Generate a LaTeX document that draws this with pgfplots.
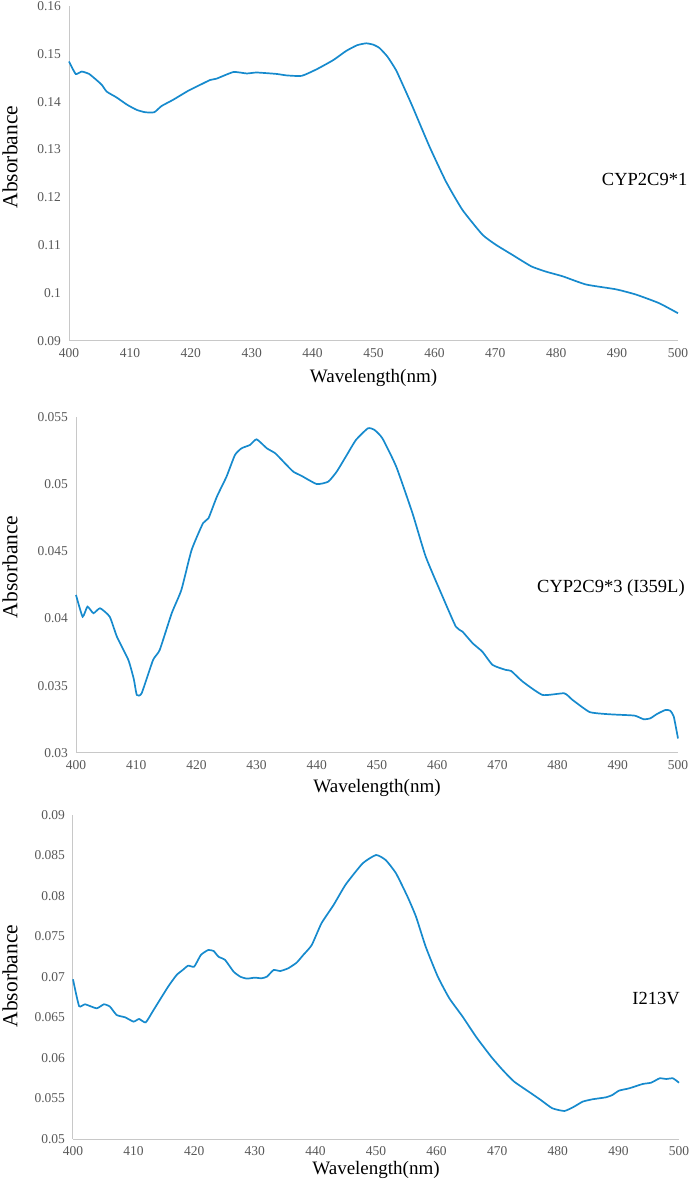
\documentclass[border=0pt]{standalone}
\usepackage{fontspec}
\setmainfont{Liberation Serif}
\usepackage{pgfplots}
\pgfplotsset{compat=1.18}
\definecolor{curve}{RGB}{22,138,205}
\definecolor{axisgray}{RGB}{200,200,200}
\definecolor{tickgray}{RGB}{89,89,89}
\pgfplotsset{
 spec/.style={
  scale only axis,
  xmin=400,xmax=500,
  xtick={400,410,...,500},
  axis x line=bottom, axis y line=left,
  axis line style={axisgray, line width=1pt, -},
  major tick length=0pt,
  scaled y ticks=false, scaled x ticks=false,
  tick label style={font=\fontsize{13.5}{15}\selectfont, text=tickgray},
  /pgf/number format/assume math mode=true,
  yticklabel style={/pgf/number format/fixed, /pgf/number format/precision=3, xshift=-4.5pt},
  xticklabel style={yshift=-4pt},
  xlabel={Wavelength(nm)},
  ylabel={Absorbance},
  clip=false,
 },
 spc/.style={curve, line width=1.7pt, smooth, tension=0.3},
}
\begin{document}
\begin{tikzpicture}[x=1pt,y=1pt]
\path[use as bounding box] (0,0) rectangle (692,1182);
% ---------- Plot 1
\begin{axis}[spec, at={(69pt,841pt)}, anchor=south west, width=609pt, height=335pt,
  ymin=0.09, ymax=0.16, ytick={0.09,0.1,0.11,0.12,0.13,0.14,0.15,0.16},
  every axis x label/.style={at={(axis description cs:0.5,-0.11)},anchor=center,font=\fontsize{19}{21}\selectfont},
  every axis y label/.style={at={(axis description cs:-0.097,0.549)},rotate=90,anchor=center,font=\fontsize{21.5}{23}\selectfont}]
\addplot[spc] coordinates {
(400,0.1484)(401.1,0.1458)(402.1,0.1463)(403.3,0.1458)(404.5,0.14455)(405.4,0.1435)(406.2,0.1421)(407.8,0.1409)(409.5,0.1394)(411.1,0.1383)(412.5,0.1378)(414.0,0.1378)(415.2,0.1391)(417.1,0.1404)(419.6,0.1423)(421.5,0.1435)(423.2,0.14455)(424.2,0.1448)(427,0.1462)(429.2,0.1459)(430.8,0.1461)(434.1,0.1458)(435.7,0.1455)(438.2,0.1454)(440.7,0.1468)(443.4,0.1487)(445.5,0.1506)(447.3,0.1518)(448.8,0.1522)(450,0.1519)(451.0,0.1512)(452.3,0.1494)(453.7,0.1466)(455,0.1430)(456.4,0.1390)(459.2,0.1306)(461.9,0.1233)(464.6,0.1174)(467.9,0.1122)(470.1,0.1101)(472.8,0.1080)(475.9,0.1056)(478.3,0.1045)(481.1,0.1035)(484.9,0.1018)(489.8,0.1008)(493.1,0.0997)(496.9,0.0979)(500,0.0958)
};
\node[anchor=east,font=\fontsize{18.5}{20}\selectfont] at (axis cs:502.1,0.1237) {CYP2C9*1};
\end{axis}
% ---------- Plot 2
\begin{axis}[spec, at={(76pt,429pt)}, anchor=south west, width=602pt, height=336pt,
  ymin=0.03, ymax=0.055, ytick={0.03,0.035,0.04,0.045,0.05,0.055},
  every axis x label/.style={at={(axis description cs:0.5,-0.104)},anchor=center,font=\fontsize{19}{21}\selectfont},
  every axis y label/.style={at={(axis description cs:-0.1096,0.554)},rotate=90,anchor=center,font=\fontsize{21.5}{23}\selectfont}]
\addplot[spc] coordinates {
(400,0.04176)(401.1,0.04014)(401.9,0.04089)(402.9,0.0404)(404.0,0.04077)(405.6,0.04014)(406.8,0.03865)(408.7,0.03692)(409.6,0.0355)(410.1,0.03432)(410.9,0.03444)(412.8,0.03692)(413.9,0.03766)(415.9,0.0404)(417.5,0.04213)(419.2,0.0451)(421.1,0.0471)(422.0,0.04746)(423.4,0.04907)(425.0,0.05056)(426.4,0.05217)(427.5,0.05267)(428.9,0.05292)(430.0,0.05334)(431.7,0.05267)(433.1,0.0523)(434.7,0.05156)(436.1,0.05093)(437.5,0.05061)(440.0,0.05001)(441.9,0.05019)(443.3,0.05093)(444.9,0.05211)(446.5,0.05329)(448.5,0.05416)(449.6,0.05403)(450.9,0.05341)(453.2,0.0513)(455.9,0.04783)(458.1,0.0446)(460.9,0.04163)(463.1,0.0394)(464.2,0.03903)(465.9,0.03816)(467.5,0.03754)(469.2,0.03655)(471.4,0.03618)(472.3,0.0361)(474.2,0.03531)(477.5,0.03432)(481.1,0.03444)(482.5,0.03394)(485.3,0.03305)(488.0,0.0329)(489.9,0.03285)(492.8,0.03278)(494.3,0.03251)(495.4,0.03258)(496.5,0.0329)(497.9,0.0332)(498.7,0.03315)(499.3,0.0327)(500,0.03108)
};
\node[anchor=east,font=\fontsize{18.5}{20}\selectfont] at (axis cs:501.7,0.04228) {CYP2C9*3 (I359L)};
\end{axis}
% ---------- Plot 3
\begin{axis}[spec, at={(73pt,43pt)}, anchor=south west, width=606pt, height=324pt,
  ymin=0.05, ymax=0.09, ytick={0.05,0.055,0.06,0.065,0.07,0.075,0.08,0.085,0.09},
  every axis x label/.style={at={(axis description cs:0.5,-0.096)},anchor=center,font=\fontsize{19}{21}\selectfont},
  every axis y label/.style={at={(axis description cs:-0.104,0.503)},rotate=90,anchor=center,font=\fontsize{21.5}{23}\selectfont}]
\addplot[spc] coordinates {
(400,0.06971)(401,0.06642)(402,0.06663)(403.9,0.06613)(405.1,0.06663)(406.1,0.06634)(407.2,0.06531)(408.6,0.06502)(410.0,0.06449)(410.9,0.06482)(412.0,0.0644)(413.3,0.06593)(415.7,0.06881)(417.1,0.07025)(418.1,0.07086)(419.0,0.0714)(420.0,0.07128)(421.1,0.07272)(422.3,0.07333)(423.2,0.07321)(424.0,0.07251)(425.1,0.0721)(426.5,0.07066)(427.6,0.07004)(428.7,0.0698)(430.0,0.06992)(431.1,0.06984)(432.0,0.07004)(433.1,0.07086)(434.2,0.07074)(435.5,0.07107)(436.9,0.07177)(438.0,0.07272)(439.4,0.07395)(441.0,0.07663)(443.0,0.07889)(445.0,0.08142)(447.8,0.08403)(450.0,0.08506)(451.6,0.08444)(453.3,0.0828)(455.2,0.07992)(456.6,0.07745)(458.2,0.07374)(460.2,0.07004)(462.1,0.06737)(464.3,0.0651)(466.5,0.06263)(469.0,0.06016)(470.9,0.05852)(472.8,0.05708)(475.6,0.05564)(477.2,0.05481)(479.1,0.05379)(481.1,0.05346)(482.7,0.054)(484.1,0.05461)(485.7,0.0549)(487.9,0.05514)(489.0,0.05543)(490.1,0.05597)(491.8,0.05626)(494.0,0.05679)(495.4,0.05695)(496.8,0.05749)(497.9,0.05741)(499.0,0.05749)(500,0.05695)
};
\node[anchor=east,font=\fontsize{18.5}{20}\selectfont] at (axis cs:500.7,0.0674) {I213V};
\end{axis}
\end{tikzpicture}
\end{document}
